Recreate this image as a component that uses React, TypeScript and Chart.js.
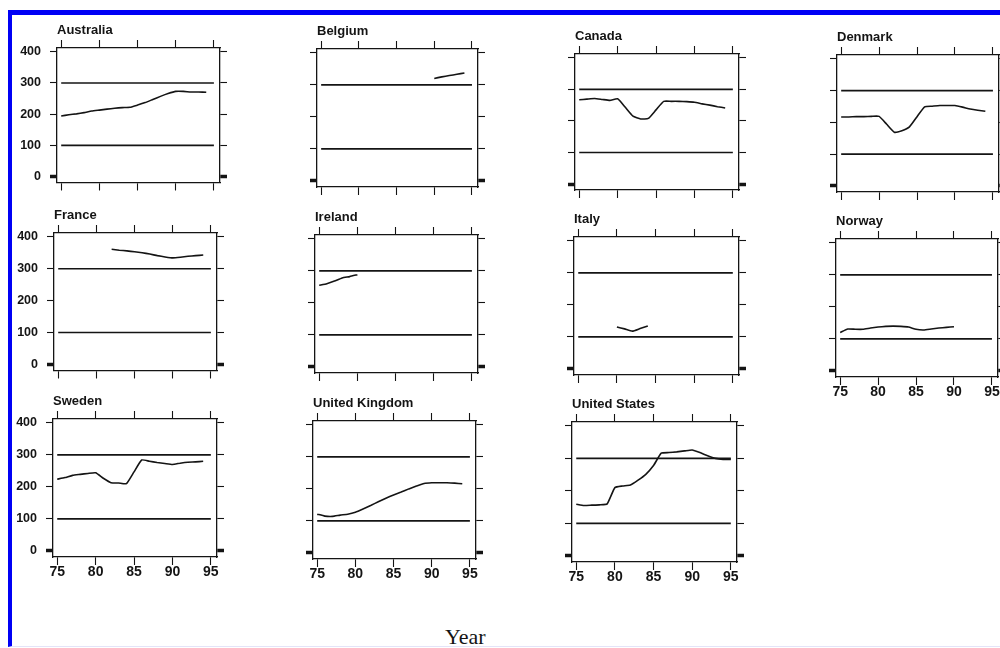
import React, { useEffect, useRef } from "react";
import { Chart, registerables } from "chart.js";
Chart.register(...registerables);

// ---------- data ----------
const years = [75, 76, 77, 78, 79, 80, 81, 82, 83, 84, 85, 86, 87, 88, 89, 90, 91, 92, 93, 94, 95];
const xTicks = [75, 80, 85, 90, 95];
const yTicks = [0, 100, 200, 300, 400];
const refLevels = [100, 300];
const refSpan = [75, 95];

const australia = [194, 198, 201, 205, 210, 213, 216, 219, 221, 222, 229, 237, 247, 257, 266, 273, 273, 271, 271, 270, null];
const belgium = [null, null, null, null, null, null, null, null, null, null, null, null, null, null, null, 320, 325, 329, 333, 337, null];
const canada = [267, 269, 271, 268, 265, 270, 243, 215, 206, 208, 235, 262, 262, 262, 261, 259, 254, 250, 245, 241, null];
const denmark = [217, 217, 218, 218, 219, 219, 194, 169, 174, 186, 218, 249, 251, 253, 253, 253, 248, 242, 238, 235, null];
const france = [null, null, null, null, null, null, null, 361, 358, 356, 353, 350, 346, 341, 337, 334, 336, 339, 341, 343, null];
const ireland = [255, 260, 268, 278, 282, 288, null, null, null, null, null, null, null, null, null, null, null, null, null, null, null];
const italy = [null, null, null, null, null, 131, 125, 118, 126, 134, null, null, null, null, null, null, null, null, null, null, null];
const norway = [120, 131, 130, 130, 134, 137, 139, 140, 139, 137, 130, 128, 131, 134, 136, 138, null, null, null, null, null];
const sweden = [224, 229, 236, 239, 242, 244, 227, 213, 212, 210, 247, 284, 280, 276, 273, 270, 274, 277, 278, 280, null];
const unitedKingdom = [121, 115, 114, 118, 121, 127, 137, 148, 160, 171, 181, 190, 200, 209, 217, 219, 219, 219, 218, 216, null];
const unitedStates = [159, 155, 156, 157, 160, 210, 215, 218, 233, 251, 278, 316, 318, 320, 323, 326, 318, 308, 300, 297, 297];

const countryNames = ["Australia", "Belgium", "Canada", "Denmark", "France", "Ireland", "Italy", "Norway", "Sweden", "United Kingdom", "United States"];
const countrySeries = [australia, belgium, canada, denmark, france, ireland, italy, norway, sweden, unitedKingdom, unitedStates];

// ---------- layout (plot-box pixel positions: left, top, right, bottom) ----------
const boxes = [
  [57, 48, 220, 185],
  [317, 49, 478, 187],
  [575, 54, 739, 190],
  [837, 55, 999, 192],
  [54, 233, 217, 373],
  [315, 235, 478, 373],
  [574, 237, 739, 375],
  [836, 239, 998, 377],
  [53, 419, 217, 557],
  [313, 421, 476, 559],
  [572, 422, 737, 562],
];
const showYLabels = [true, false, false, false, true, false, false, false, true, false, false];
const showXLabels = [false, false, false, false, false, false, false, true, true, true, true];

const FONT = "'Liberation Sans', Arial, Helvetica, sans-serif";
const INK = "#141414";
const X_MIN = 74.45;
const X_MAX = 95.8;
const Y_MIN = -19;
const Y_MAX = 412;

const panelTitle = {
  id: "panelTitle",
  afterDraw(chart: any, _args: any, opts: any) {
    const { ctx, chartArea } = chart;
    ctx.save();
    ctx.font = `bold 13px ${FONT}`;
    ctx.fillStyle = INK;
    ctx.textAlign = "left";
    ctx.textBaseline = "alphabetic";
    ctx.fillText(opts.text, chartArea.left, chartArea.top - 14);
    ctx.restore();
  },
};

function tickWidth(ctx: any) {
  return ctx.tick && ctx.tick.value === 0 ? 3.5 : 1.1;
}

function makeConfig(i: number, L: number, R: number, T: number, B: number): any {
  const values = countrySeries[i];
  const datasets: any[] = refLevels.map((lv) => ({
    data: refSpan.map((x) => ({ x, y: lv })),
    borderColor: INK,
    borderWidth: 1.6,
    pointRadius: 0,
  }));
  datasets.push({
    data: years.map((yr, k) => ({ x: yr, y: values[k] })),
    borderColor: INK,
    borderWidth: 1.6,
    pointRadius: 0,
    spanGaps: false,
    tension: 0.15,
  });
  const gridX = { drawOnChartArea: false, drawTicks: true, tickLength: 8, tickColor: INK, tickWidth: 1.1 };
  const gridY = { drawOnChartArea: false, drawTicks: true, tickLength: 7, tickColor: INK, tickWidth };
  const border = { display: true, color: INK, width: 1.3 };
  const setX = (s: any) => { s.ticks = xTicks.map((v) => ({ value: v })); };
  const setY = (s: any) => { s.ticks = yTicks.map((v) => ({ value: v })); };
  return {
    type: "line",
    data: { datasets },
    plugins: [panelTitle],
    options: {
      animation: false,
      responsive: false,
      maintainAspectRatio: false,
      events: [],
      layout: { padding: 0 },
      plugins: {
        legend: { display: false },
        tooltip: { enabled: false },
        panelTitle: { text: countryNames[i] },
      },
      scales: {
        x: {
          type: "linear", position: "bottom", min: X_MIN, max: X_MAX,
          afterBuildTicks: setX,
          afterFit: (s: any) => { s.height = B; },
          ticks: { display: showXLabels[i], font: { family: FONT, size: 14, weight: "bold" }, color: INK, padding: -1, maxRotation: 0, autoSkip: false },
          grid: gridX, border,
        },
        x2: {
          type: "linear", position: "top", min: X_MIN, max: X_MAX,
          afterBuildTicks: setX,
          afterFit: (s: any) => { s.height = T; },
          ticks: { display: false },
          grid: gridX, border,
        },
        y: {
          type: "linear", position: "left", min: Y_MIN, max: Y_MAX,
          afterBuildTicks: setY,
          afterFit: (s: any) => { s.width = L; },
          ticks: { display: showYLabels[i], font: { family: FONT, size: 12.5, weight: "bold" }, color: INK, padding: 9 },
          grid: gridY, border,
        },
        y2: {
          type: "linear", position: "right", min: Y_MIN, max: Y_MAX,
          afterBuildTicks: setY,
          afterFit: (s: any) => { s.width = R; },
          ticks: { display: false },
          grid: gridY, border,
        },
      },
    },
  };
}

function Panel({ i }: { i: number }) {
  const ref = useRef<HTMLCanvasElement>(null);
  const [l, t, r, b] = boxes[i];
  const L = showYLabels[i] ? 50 : 14;
  const R = 12;
  const T = 34;
  const B = showXLabels[i] ? 30 : 14;
  const w = r - l + L + R;
  const h = b - t + T + B;
  useEffect(() => {
    const chart = new Chart(ref.current as HTMLCanvasElement, makeConfig(i, L, R, T, B));
    return () => chart.destroy();
  }, []);
  return (
    <canvas
      ref={ref}
      width={w}
      height={h}
      style={{ position: "absolute", left: l - L, top: t - T, width: w, height: h }}
    />
  );
}

export default function App() {
  return (
    <div style={{ position: "absolute", left: 0, top: 0, width: 1000, height: 648, overflow: "hidden", background: "#fff" }}>
      <div
        style={{
          position: "absolute", left: 8, top: 10, width: 1000, height: 637,
          borderTop: "5px solid #0000f5", borderLeft: "4px solid #0000f5",
          borderBottom: "1px solid #e4e4f8", boxSizing: "border-box",
        }}
      />
      {countryNames.map((_, i) => (
        <Panel key={i} i={i} />
      ))}
      <div
        style={{
          position: "absolute", left: 445, top: 625.5, fontFamily: "'Liberation Serif', 'Times New Roman', serif",
          fontSize: 22, lineHeight: "22px", color: INK, whiteSpace: "nowrap",
        }}
      >
        Year
      </div>
    </div>
  );
}
